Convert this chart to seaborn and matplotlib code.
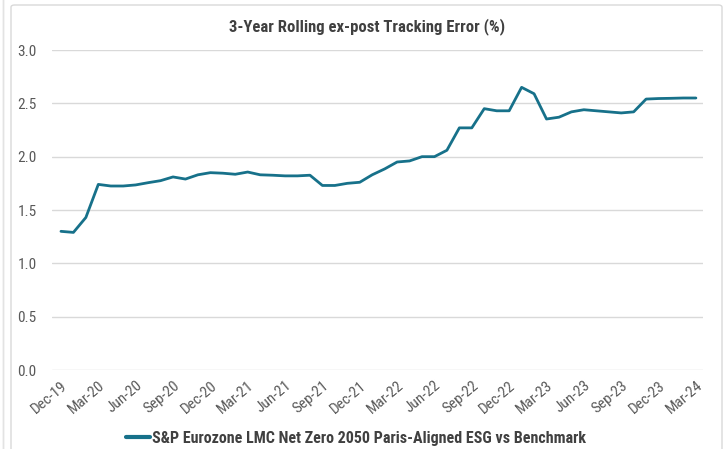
import matplotlib
matplotlib.use("Agg")
import matplotlib.pyplot as plt
import seaborn as sns
import pandas as pd
from matplotlib.patches import FancyBboxPatch
from matplotlib import font_manager

sns.set_theme(style="white")
_avail = {f.name for f in font_manager.fontManager.ttflist}
_narrow = [n for n in ['Liberation Sans Narrow', 'Roboto Condensed', 'Open Sans Condensed',
                       'DejaVu Sans Condensed'] if n in _avail]
FAM = _narrow + ['Liberation Sans', 'DejaVu Sans']
NARROW = bool(_narrow)
plt.rcParams['font.family'] = FAM

months = pd.date_range("2019-12-01", "2024-03-01", freq="MS")
te_values = [
    1.30, 1.29, 1.43, 1.74, 1.725, 1.725, 1.735, 1.756, 1.775, 1.81,
    1.79, 1.83, 1.85, 1.845, 1.835, 1.856, 1.83, 1.826, 1.82, 1.82,
    1.826, 1.73, 1.73, 1.75, 1.76, 1.83, 1.885, 1.95, 1.96, 2.00,
    2.00, 2.06, 2.27, 2.27, 2.45, 2.43, 2.43, 2.65, 2.59, 2.353,
    2.37, 2.42, 2.44, 2.43, 2.42, 2.41, 2.42, 2.54, 2.545, 2.547,
    2.55, 2.55,
]
y_ticks = [0.0, 0.5, 1.0, 1.5, 2.0, 2.5, 3.0]
series_name = "S&P Eurozone LMC Net Zero 2050 Paris-Aligned ESG vs Benchmark"
title = "3-Year Rolling ex-post Tracking Error (%)"

df = pd.DataFrame({"idx": range(len(months)), "te": te_values,
                   "label": [m.strftime("%b-%y") for m in months],
                   "series": series_name})

title_fs = 12 if NARROW else 10.6
legend_fs = 11.5 if NARROW else 9.8
tick_fs = 11 if NARROW else 10

fig = plt.figure(figsize=(7.25, 4.49), dpi=100)
fig.patches.append(FancyBboxPatch((11/725, -0.05), 711/725, 1.0 - 5/449 + 0.05,
                                  boxstyle="round,pad=0,rounding_size=0.005",
                                  transform=fig.transFigure, fill=False,
                                  edgecolor="#D9D9D9", linewidth=1.0))
fig.patches.append(plt.Rectangle((3/725, -0.05), 0.0, 1.1, transform=fig.transFigure,
                                 fill=False, edgecolor="#E3E3E3", linewidth=1.0))

ax = fig.add_axes([52/725, 1 - 370/449, (703 - 52)/725, (370 - 50)/449])
color = "#17718A"
sns.lineplot(data=df, x="idx", y="te", hue="series", palette=[color],
             linewidth=2.0, ax=ax, legend=True)

ax.set_ylim(0, 3.0)
ax.set_xlim(-0.72, 51.57)
ax.set_yticks(y_ticks)
ax.set_yticklabels([f"{v:.1f}" for v in y_ticks], fontsize=tick_fs, color="#595959")
ax.yaxis.grid(True, color="#D9D9D9", linewidth=1.0)
ax.xaxis.grid(False)
ax.set_axisbelow(True)
for s in ax.spines.values():
    s.set_visible(False)
ax.tick_params(axis="y", length=0, pad=11)
xt = list(range(0, len(months), 3))
ax.set_xticks(xt)
ax.set_xticklabels([df["label"][i] for i in xt], rotation=40, ha="right",
                   rotation_mode="anchor", fontsize=tick_fs, color="#595959")
ax.tick_params(axis="x", length=0, pad=6)
ax.set_xlabel("")
ax.set_ylabel("")

fig.text(367/725, 1 - 27/449, title, ha="center", va="center",
         fontsize=title_fs, fontweight="bold", color="#404040")

handles, labels = ax.get_legend_handles_labels()
ax.legend(handles, labels, loc="center", bbox_to_anchor=(356/725, 1 - 438/449),
          bbox_transform=fig.transFigure, frameon=False, handlelength=1.5,
          handletextpad=0.15, prop={"weight": "bold", "size": legend_fs, "family": FAM},
          labelcolor="#404040")
for lh in ax.get_legend().get_lines():
    lh.set_linewidth(3)

fig.savefig("out.png", dpi=100)
